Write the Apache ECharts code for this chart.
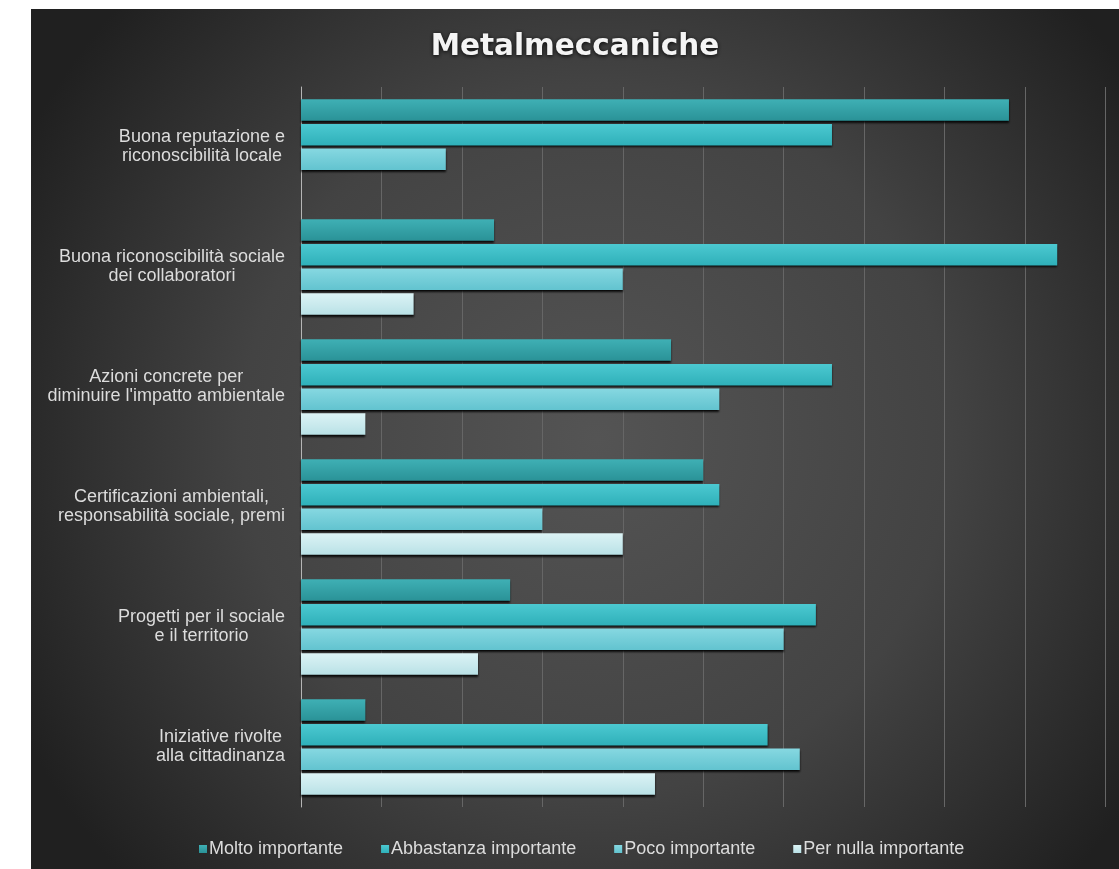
<!DOCTYPE html>
<html>
<head>
<meta charset="utf-8">
<script src="https://cdn.jsdelivr.net/npm/echarts@6/dist/echarts.min.js"></script>
<style>
  html, body { margin: 0; padding: 0; background: #ffffff; }
  #chart { position: absolute; left: 31px; top: 9px; width: 1088px; height: 860px; }
</style>
</head>
<body>
<div id="chart"></div>
<script>
// Categories, top to bottom
const categories = [
  'Buona reputazione e\nriconoscibilità locale',
  'Buona riconoscibilità sociale\ndei collaboratori',
  'Azioni concrete per\ndiminuire l\'impatto ambientale',
  'Certificazioni ambientali,\nresponsabilità sociale, premi',
  'Progetti per il sociale\ne il territorio',
  'Iniziative rivolte\nalla cittadinanza'
];

const seriesNames = ['Molto importante', 'Abbastanza importante', 'Poco importante', 'Per nulla importante'];

// Number of answers per category
const molto      = [44, 12, 23, 25, 13, 4];
const abbastanza = [33, 47, 33, 26, 32, 29];
const poco       = [9, 20, 26, 15, 30, 31];
const perNulla   = [0, 7, 4, 20, 11, 22];

const xTicks = { min: 0, max: 50, interval: 5 };

const palette = [
  ['#3fb0b5', '#2a9297'],
  ['#4cc9d1', '#2fb0b9'],
  ['#86d8e1', '#62c3cf'],
  ['#dcf3f5', '#b9e1e6']
];

function barSeries(name, values, idx) {
  return {
    name: name,
    type: 'bar',
    data: values,
    barWidth: 21.5,
    barGap: '15%',
    itemStyle: {
      color: new echarts.graphic.LinearGradient(0, 0, 0, 1, [
        { offset: 0, color: palette[idx][0] },
        { offset: 1, color: palette[idx][1] }
      ]),
      shadowColor: 'rgba(0,0,0,0.85)',
      shadowBlur: 2,
      shadowOffsetY: 2
    }
  };
}

const labelFont = { fontFamily: 'Liberation Sans', fontSize: 18, lineHeight: 19, color: '#dcdcdc' };

const chart = echarts.init(document.getElementById('chart'));
chart.setOption({
  animation: false,
  backgroundColor: new echarts.graphic.RadialGradient(0.52, 0.5, 0.75, [
    { offset: 0, color: '#545454' },
    { offset: 0.55, color: '#434343' },
    { offset: 1, color: '#202020' }
  ]),
  color: palette.map(p => p[1]),
  title: {
    text: 'Metalmeccaniche',
    left: 'center',
    top: 18,
    textStyle: {
      fontFamily: 'DejaVu Sans',
      fontWeight: 'bold',
      fontSize: 29.5,
      color: '#f4f4f4',
      textShadowColor: 'rgba(0,0,0,0.9)',
      textShadowBlur: 4,
      textShadowOffsetY: 1
    }
  },
  legend: {
    data: seriesNames,
    bottom: 6,
    left: 163,
    icon: 'rect',
    itemWidth: 8,
    itemHeight: 8,
    itemGap: 38,
    textStyle: {
      fontFamily: 'Liberation Sans',
      fontSize: 18,
      color: '#dcdcdc',
      padding: [0, 0, 0, -3]
    }
  },
  grid: {
    left: 270,
    top: 78,
    width: 804.5,
    height: 720,
    containLabel: false
  },
  xAxis: {
    type: 'value',
    min: xTicks.min,
    max: xTicks.max,
    interval: xTicks.interval,
    axisLabel: { show: false },
    axisLine: { show: false },
    axisTick: { show: false },
    splitLine: { show: true, lineStyle: { color: '#666666', width: 1 } }
  },
  yAxis: {
    type: 'category',
    inverse: true,
    data: categories,
    axisTick: { show: false },
    axisLine: { show: true, lineStyle: { color: '#b5b5b5', width: 1 } },
    axisLabel: Object.assign({
      margin: 16,
      formatter: v => v.split('\n').map(s => '{c|' + s + '}').join('\n'),
      rich: {
        c: Object.assign({ align: 'center' }, labelFont)
      }
    }, labelFont)
  },
  series: [
    barSeries(seriesNames[0], molto, 0),
    barSeries(seriesNames[1], abbastanza, 1),
    barSeries(seriesNames[2], poco, 2),
    barSeries(seriesNames[3], perNulla, 3)
  ]
});
</script>
</body>
</html>
